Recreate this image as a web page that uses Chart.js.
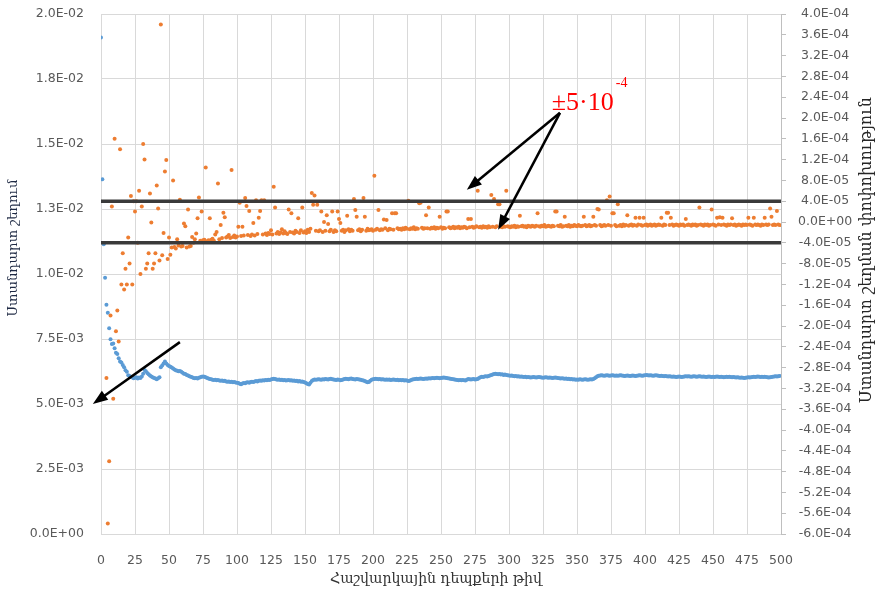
<!DOCTYPE html>
<html>
<head>
<meta charset="utf-8">
<script src="https://cdn.jsdelivr.net/npm/chart.js@4.4.0/dist/chart.umd.min.js"></script>
<style>
  body { margin: 0; background: #fff; }
  #wrap { width: 884px; height: 592px; }
</style>
</head>
<body>
<div id="wrap"><canvas id="chart" width="884" height="592"></canvas></div>
<script>
// axis texts
var xTitle = "Հաշվարկային դեպքերի թիվ";
var leftTitle = "Ստանդարտ շեղում";
var rightTitle = "Ստանդարտ շեղման փոփոխություն";

// standard deviation, one value per calculation case (0..499)
var stdDev = [
  0.0191, 0.01364, 0.01114, 0.00986, 0.00882, 0.00851, 0.00791, 0.00749, 0.00731, 0.00733,
  0.00714, 0.00697, 0.00692, 0.00676, 0.00663, 0.0066, 0.0065, 0.00641, 0.0063, 0.00624,
  0.00611, 0.00608, 0.00605, 0.00602, 0.00599, 0.00601, 0.00603, 0.00598, 0.00602, 0.006,
  0.00606, 0.00616, 0.00631, 0.00626, 0.00619, 0.00614, 0.0061, 0.00606, 0.00603, 0.006,
  0.00598, 0.00595, 0.00599, 0.00603, 0.00641, 0.00648, 0.00656, 0.00663, 0.00656, 0.0065,
  0.00646, 0.00643, 0.0064, 0.00637, 0.00633, 0.0063, 0.00628, 0.00626, 0.00627, 0.00624,
  0.0062, 0.00616, 0.00615, 0.00612, 0.0061, 0.00607, 0.00605, 0.00603, 0.006, 0.00599,
  0.006, 0.00598, 0.00601, 0.00603, 0.00605, 0.00606, 0.00605, 0.00603, 0.006, 0.00598,
  0.00596, 0.00595, 0.00593, 0.00592, 0.00593, 0.00591, 0.00592, 0.0059, 0.00589, 0.0059,
  0.00588, 0.00589, 0.00587, 0.00586, 0.00587, 0.00585, 0.00586, 0.00584, 0.00585, 0.00583,
  0.00582, 0.00581, 0.00578, 0.00576, 0.00579, 0.00581, 0.0058, 0.00583, 0.00584, 0.00582,
  0.00585, 0.00586, 0.00585, 0.00587, 0.00588, 0.00587, 0.00589, 0.0059, 0.00589, 0.00591,
  0.0059, 0.00592, 0.00591, 0.00593, 0.00592, 0.00594, 0.00596, 0.00597, 0.00596, 0.00594,
  0.00593, 0.00594, 0.00592, 0.00593, 0.00591, 0.00592, 0.0059, 0.00591, 0.00592, 0.0059,
  0.00591, 0.00589, 0.0059, 0.00588, 0.00589, 0.00587, 0.00588, 0.00586, 0.00587, 0.00585,
  0.00583, 0.0058, 0.00577, 0.00575, 0.00582, 0.00588, 0.00592, 0.00594, 0.00593, 0.00594,
  0.00595, 0.00594, 0.00593, 0.00595, 0.00594, 0.00596, 0.00595, 0.00594, 0.00596, 0.00597,
  0.00595, 0.00594, 0.00593, 0.00592, 0.00594, 0.00593, 0.00591, 0.00592, 0.00594, 0.00596,
  0.00597, 0.00596, 0.00595, 0.00597, 0.00598, 0.00596, 0.00595, 0.00594, 0.00596, 0.00595,
  0.00594, 0.00593, 0.00591, 0.0059, 0.00588, 0.00586, 0.00584, 0.00585, 0.00589, 0.00593,
  0.00595, 0.00596, 0.00597, 0.00596, 0.00595, 0.00596, 0.00594, 0.00595, 0.00594, 0.00593,
  0.00594, 0.00593, 0.00594, 0.00592, 0.00593, 0.00594, 0.00593, 0.00592, 0.00593, 0.00591,
  0.00592, 0.00591, 0.00592, 0.0059, 0.00591, 0.0059, 0.00588, 0.00589, 0.00592, 0.00594,
  0.00595, 0.00596, 0.00597, 0.00596, 0.00597, 0.00598, 0.00597, 0.00596, 0.00597, 0.00598,
  0.00597, 0.00599, 0.00598, 0.00599, 0.006, 0.00599, 0.006, 0.00601, 0.006, 0.00599,
  0.006, 0.00601, 0.00602, 0.00601, 0.006, 0.00599, 0.00598, 0.00597, 0.00596, 0.00595,
  0.00594, 0.00593, 0.00592, 0.00591, 0.00592, 0.00591, 0.00592, 0.00591, 0.0059, 0.00593,
  0.00596, 0.00595, 0.00594, 0.00595, 0.00596, 0.00594, 0.00595, 0.00596, 0.006, 0.00603,
  0.00605, 0.00604, 0.00606, 0.00607, 0.00606, 0.00608, 0.0061, 0.00612, 0.00613, 0.00615,
  0.00616, 0.00615, 0.00614, 0.00615, 0.00613, 0.00614, 0.00612, 0.00613, 0.00612, 0.00611,
  0.0061, 0.00609, 0.0061, 0.00608, 0.00607, 0.00608, 0.00606, 0.00607, 0.00605, 0.00606,
  0.00605, 0.00604, 0.00605, 0.00603, 0.00604, 0.00603, 0.00602, 0.00603, 0.00604, 0.00603,
  0.00602, 0.00603, 0.00604, 0.00603, 0.00602, 0.00601, 0.00602, 0.00603, 0.00602, 0.00601,
  0.00602, 0.00601, 0.006, 0.00601, 0.00602, 0.00601, 0.006, 0.00599, 0.00598, 0.00599,
  0.00598, 0.00597, 0.00598, 0.00596, 0.00597, 0.00595, 0.00596, 0.00594, 0.00595, 0.00593,
  0.00594, 0.00593, 0.00595, 0.00594, 0.00593, 0.00594, 0.00595, 0.00594, 0.00593, 0.00594,
  0.00595, 0.00594, 0.00596, 0.00599, 0.00603, 0.00607, 0.00609, 0.0061, 0.00611, 0.0061,
  0.00609, 0.0061, 0.00611, 0.0061, 0.00609, 0.0061, 0.00611, 0.0061, 0.00609, 0.0061,
  0.00609, 0.0061, 0.00611, 0.0061, 0.00609, 0.00608, 0.00609, 0.0061, 0.00609, 0.00608,
  0.00609, 0.0061, 0.00609, 0.00608, 0.00609, 0.0061, 0.00611, 0.0061, 0.00609, 0.0061,
  0.00611, 0.00612, 0.00611, 0.0061, 0.00611, 0.0061, 0.00609, 0.0061, 0.00611, 0.0061,
  0.00609, 0.00608, 0.00609, 0.00608, 0.00607, 0.00608, 0.00607, 0.00606, 0.00607, 0.00606,
  0.00605, 0.00606, 0.00605, 0.00604, 0.00605, 0.00606, 0.00605, 0.00604, 0.00605, 0.00606,
  0.00607, 0.00606, 0.00607, 0.00606, 0.00605, 0.00606, 0.00607, 0.00606, 0.00605, 0.00606,
  0.00607, 0.00606, 0.00605, 0.00606, 0.00605, 0.00604, 0.00605, 0.00606, 0.00605, 0.00604,
  0.00605, 0.00604, 0.00605, 0.00606, 0.00605, 0.00604, 0.00605, 0.00604, 0.00603, 0.00604,
  0.00605, 0.00604, 0.00605, 0.00604, 0.00603, 0.00604, 0.00603, 0.00602, 0.00603, 0.00602,
  0.00601, 0.00602, 0.00601, 0.006, 0.00601, 0.00602, 0.00603, 0.00602, 0.00603, 0.00604,
  0.00605, 0.00604, 0.00605, 0.00606, 0.00605, 0.00604, 0.00605, 0.00604, 0.00605, 0.00604,
  0.00603, 0.00602, 0.00603, 0.00604, 0.00605, 0.00606, 0.00607, 0.00606, 0.00607, 0.00608
];

// change of the standard deviation, in units of 1e-5 (first cases are off the scale)
var stdChangeE5 = [
  null, null, null, null, -30, -58, -46, -18, 3, -34, 16, -21, -17, -23, 14, -12, -6, -13, -9, -12,
  -3, -8, 5, -12, 4, 2, 4, -4, 6, -10, 3, 15, 12, -9, -8, -6, 5.5, -0.1, -9, -8,
  -6, 7, 2.6, -7.4, 38, -6.4, -2.1, 9.7, 11.9, -7.1, -3, -6.3, -4.9, 8, -4.8, -5.1, -3.3, -4.5, 4.3, -4.7,
  -4.6, -0.3, -0.8, -4.9, 2.4, -4.7, -4.6, -2.9, -4.0, -3.3, -2.2, 0.7, 4.7, -3.6, 2.0, -3.5, -3.4, 10.5, -3.7, -3.5,
  0.7, -3.4, -3.2, -3.6, -2.4, -1.9, 7.4, -3.3, -0.6, -3.1, 1.8, 0.9, -3.0, -2.8, -2.5, -3.1, 10.0, -2.9, -2.6, -3.0,
  -2.8, -0.9, 3.7, -2.7, -0.9, -2.6, 4.6, 3.1, -2.5, 2.1, -2.7, -2.4, -0.2, -2.6, 4.2, -2.3, 0.8, 2.1, 4.2, -2.4,
  4.2, -2.2, -2.5, -2.1, -2.3, -1.6, -2.4, 6.8, 2.8, -2.2, -1.9, -2.3, -2.0, -1.4, -2.2, -1.8, -2.1, -2.3, 2.4, -1.9,
  1.7, -2.0, -2.2, -1.7, -1.9, 0.7, -2.1, -1.6, 2.8, -2.0, -1.8, -2.1, -1.5, -1.9, -1.3, 5.6, 3.3, 5.1, -1.7, 3.3,
  -1.8, -1.6, 2.0, -1.9, 0.0, -1.7, 1.3, -0.4, -1.8, -1.5, 2.0, -1.9, -1.6, -1.8, 2.0, 0.6, -0.2, -1.7, -1.5, -1.9,
  -1.6, 1.2, -1.4, -1.8, -1.5, -1.7, 4.4, 2.3, 1.0, -1.6, -1.4, -1.8, -1.5, 4.6, 1.0, -1.7, -1.3, -1.6, -1.5, -1.4,
  -1.7, 8.9, -1.5, -1.3, 2.3, -1.6, -1.4, -1.5, 0.5, -1.2, 0.4, -1.6, -1.3, -1.4, 1.7, -1.5, 1.7, 1.7, -1.2, -1.4,
  -1.3, -1.5, -1.2, -1.4, -1.1, -1.3, 4.1, -1.4, -1.2, -1.3, -1.0, -1.4, -1.2, -1.3, 3.6, 3.7, -1.1, -1.3, -1.2, 1.3,
  -1.2, 2.8, -1.3, -1.1, -1.2, -1.0, -1.3, -1.1, -1.2, 1.0, -1.0, -1.3, -1.1, -1.2, 2.0, 2.0, -1.0, -1.2, -1.1, -0.9,
  -1.2, -1.0, -1.1, -0.9, -1.2, -1.0, -1.1, -0.9, -1.0, -1.2, 0.6, -1.0, 0.6, -0.9, -1.1, -1.0, -0.8, 6.0, -1.0, -0.9,
  -1.1, -0.8, -1.0, -0.9, -1.1, -0.8, -1.0, 5.2, -0.9, 4.4, -1.0, -0.8, 3.4, 3.4, -0.9, -1.0, -0.8, -0.9, 6.0, -0.8,
  -0.9, -1.0, -0.8, -0.9, -0.7, -1.0, -0.8, -0.9, 1.2, -0.8, -0.7, -0.9, -0.8, -1.0, -0.7, -0.8, -0.9, -0.7, -0.8, -0.9,
  -0.7, 1.7, -0.8, -0.9, -0.7, -0.8, -0.6, -0.9, -0.8, -0.7, -0.8, -0.9, -0.7, -0.8, 2.0, 2.0, -0.7, -0.8, -0.6, -0.9,
  -0.8, 1.0, -0.7, -0.8, -0.6, -0.9, -0.7, -0.8, -0.6, -0.7, -0.8, -0.6, -0.7, -0.8, -0.7, 1.0, -0.6, -0.8, -0.7, -0.6,
  -0.8, -0.7, 1.0, -0.6, -0.7, 2.5, 2.4, -0.6, -0.8, -0.7, -0.6, -0.7, 4.2, -0.6, 4.9, -0.7, 1.7, 1.7, -0.6, -0.8,
  3.4, -0.7, -0.6, -0.8, -0.5, -0.7, -0.6, 1.3, -0.7, -0.6, -0.5, -0.7, -0.6, 0.8, -0.7, -0.5, 0.8, -0.6, -0.7, 0.8,
  -0.6, -0.5, -0.7, -0.6, -0.5, -0.7, -0.6, -0.5, -0.7, -0.6, -0.5, -0.6, 0.8, -0.7, -0.5, -0.6, 1.8, 1.8, -0.6, 0.8,
  -0.5, -0.7, -0.6, -0.5, -0.6, -0.7, -0.5, -0.6, -0.5, -0.7, 0.6, -0.6, -0.5, -0.6, -0.7, -0.5, -0.6, -0.5, -0.7, -0.6,
  2.8, -0.5, -0.6, -0.7, -0.5, -0.6, -0.5, -0.7, -0.6, 2.4, -0.5, -0.6, -0.7, 0.8, -0.5, 0.9, -0.6, 0.8, -0.5, -0.6,
  -0.7, -0.5, -0.6, -0.5, 0.7, -0.6, -0.5, -0.7, -0.6, -0.5, -0.6, -0.7, -0.5, -0.6, -0.5, -0.6, 0.8, -0.5, -0.6, -0.7,
  0.8, -0.5, -0.6, -0.5, -0.6, -0.7, -0.5, -0.6, 0.8, -0.5, -0.6, -0.5, 2.6, 1.0, -0.6, -0.5, -0.6, 2.1, -0.5, -0.6
];

// the two black limit lines (right axis) and the x span they cover
var limitValues = [4e-5, -4e-5];
var limitSpan = [0, 500];

// axis ranges and steps
var xRange = [0, 500], xStep = 25;
var leftRange = [0, 0.02], leftStep = 0.0025;
var rightRange = [-6e-4, 4e-4], rightStep = 4e-5;

// annotation anchors, in data units (x = case number, y = right axis unless noted)
var noteText = "±5·10";
var noteSup = "-4";
var noteAt = { x: 331.5, y: 2.15e-4 };
var arrowFrom = { x: 337.5, y: 2.1e-4 };
var arrowTips = [{ x: 269, y: 6.2e-5 }, { x: 292, y: -1.5e-5 }];
var leftArrowFrom = { x: 58, y: 0.00738 };   // left axis
var leftArrowTip = { x: -6, y: 0.005 };      // left axis

function sci(v) {
    if (Math.abs(v) < 1e-12) return "0.0E+00";
    var parts = v.toExponential(1).split("e");
    var sign = parts[1].charAt(0);
    var digits = parts[1].slice(1);
    if (digits.length < 2) digits = "0" + digits;
    return parts[0] + "E" + sign + digits;
}

var stdPoints = stdDev.map(function (v, i) { return { x: i, y: v }; });
var changePoints = stdChangeE5.map(function (v, i) { return { x: i, y: v === null ? null : v * 1e-5 }; });
var limitSets = limitValues.map(function (v) {
    return {
        type: 'line',
        data: [{ x: limitSpan[0], y: v }, { x: limitSpan[1], y: v }],
        yAxisID: 'y1',
        borderColor: '#3a3a3a',
        borderWidth: 3.5,
        pointRadius: 0,
        order: 0
    };
});

function drawArrow(ctx, x1, y1, x2, y2) {
    var ang = Math.atan2(y2 - y1, x2 - x1);
    var headLen = 15, headHalf = 5.5;
    var bx = x2 - headLen * Math.cos(ang), by = y2 - headLen * Math.sin(ang);
    ctx.beginPath();
    ctx.moveTo(x1, y1);
    ctx.lineTo(bx + 2 * Math.cos(ang), by + 2 * Math.sin(ang));
    ctx.stroke();
    ctx.beginPath();
    ctx.moveTo(x2, y2);
    ctx.lineTo(bx + headHalf * Math.sin(ang), by - headHalf * Math.cos(ang));
    ctx.lineTo(bx - headHalf * Math.sin(ang), by + headHalf * Math.cos(ang));
    ctx.closePath();
    ctx.fill();
}

function fitText(ctx, text, family, width) {
    ctx.font = "20px " + family;
    var size = 20 * width / ctx.measureText(text).width;
    ctx.font = size.toFixed(2) + "px " + family;
}

var notesPlugin = {
    id: 'notes',
    afterDraw: function (chart) {
        var ctx = chart.ctx;
        var sx = chart.scales.x, sl = chart.scales.y, sr = chart.scales.y1;
        var ca = chart.chartArea;
        ctx.save();

        // axis titles
        var serif = '"DejaVu Serif", serif';
        ctx.textAlign = 'center';
        ctx.textBaseline = 'middle';
        ctx.fillStyle = '#333333';
        fitText(ctx, xTitle, serif, 212);
        ctx.fillText(xTitle, (ca.left + ca.right) / 2 - 5, 579);

        ctx.save();
        ctx.fillStyle = '#1f2a44';
        fitText(ctx, leftTitle, serif, 137);
        ctx.translate(14, (ca.top + ca.bottom) / 2 - 26);
        ctx.rotate(-Math.PI / 2);
        ctx.fillText(leftTitle, 0, 0);
        ctx.restore();

        ctx.save();
        ctx.fillStyle = '#262626';
        fitText(ctx, rightTitle, serif, 306);
        ctx.translate(867, (ca.top + ca.bottom) / 2 - 24);
        ctx.rotate(-Math.PI / 2);
        ctx.fillText(rightTitle, 0, 0);
        ctx.restore();

        // arrows
        ctx.strokeStyle = '#000';
        ctx.fillStyle = '#000';
        ctx.lineWidth = 2.5;
        var fx = sx.getPixelForValue(arrowFrom.x), fy = sr.getPixelForValue(arrowFrom.y);
        arrowTips.forEach(function (t) {
            drawArrow(ctx, fx, fy, sx.getPixelForValue(t.x), sr.getPixelForValue(t.y));
        });
        drawArrow(ctx, sx.getPixelForValue(leftArrowFrom.x), sl.getPixelForValue(leftArrowFrom.y),
            sx.getPixelForValue(leftArrowTip.x), sl.getPixelForValue(leftArrowTip.y));

        // red note
        var nx = sx.getPixelForValue(noteAt.x), ny = sr.getPixelForValue(noteAt.y);
        ctx.fillStyle = '#ff0000';
        ctx.textAlign = 'left';
        ctx.textBaseline = 'alphabetic';
        ctx.font = '26px "Liberation Serif", serif';
        ctx.fillText(noteText, nx, ny);
        var w = ctx.measureText(noteText).width;
        ctx.font = '14px "Liberation Serif", serif';
        ctx.fillText(noteSup, nx + w + 2, ny - 23);

        ctx.restore();
    }
};

var tickFont = { family: '"DejaVu Sans", sans-serif', size: 12.5 };
var gridColor = '#d9d9d9';

new Chart(document.getElementById('chart'), {
    type: 'scatter',
    data: {
        datasets: [
            {
                label: leftTitle,
                data: stdPoints,
                yAxisID: 'y',
                backgroundColor: '#5b9bd5',
                borderWidth: 0,
                pointRadius: 2,
                order: 3
            },
            {
                label: rightTitle,
                data: changePoints,
                yAxisID: 'y1',
                backgroundColor: '#ed7d31',
                borderWidth: 0,
                pointRadius: 2,
                order: 2
            }
        ].concat(limitSets)
    },
    options: {
        responsive: false,
        animation: false,
        layout: { padding: { top: 14, right: 0, bottom: 0, left: 0 } },
        plugins: { legend: { display: false }, tooltip: { enabled: false } },
        scales: {
            x: {
                type: 'linear',
                min: xRange[0], max: xRange[1],
                ticks: { stepSize: xStep, font: tickFont, color: '#595959', padding: 19, autoSkip: false, maxRotation: 0, maxTicksLimit: 100 },
                grid: { color: gridColor, drawTicks: false },
                border: { color: gridColor },
                afterFit: function (s) { s.height = 58; }
            },
            y: {
                position: 'left',
                min: leftRange[0], max: leftRange[1],
                ticks: { stepSize: leftStep, font: tickFont, color: '#595959', padding: 0, autoSkip: false, maxTicksLimit: 100, callback: function (v) { return sci(v); } },
                grid: { color: gridColor, drawTicks: true, tickLength: 17, tickColor: 'rgba(0,0,0,0)' },
                border: { color: gridColor },
                afterFit: function (s) { s.width = 101; }
            },
            y1: {
                position: 'right',
                min: rightRange[0], max: rightRange[1],
                ticks: { stepSize: rightStep, font: tickFont, color: '#595959', padding: 0, autoSkip: false, crossAlign: 'center', maxTicksLimit: 100, callback: function (v) { return sci(v); } },
                grid: { drawOnChartArea: false, drawTicks: true, tickLength: 17, tickColor: '#bfbfbf', tickBorderDash: [4, 40] },
                border: { color: '#bfbfbf' },
                afterFit: function (s) { s.width = 103; }
            }
        }
    },
    plugins: [notesPlugin]
});
</script>
</body>
</html>
